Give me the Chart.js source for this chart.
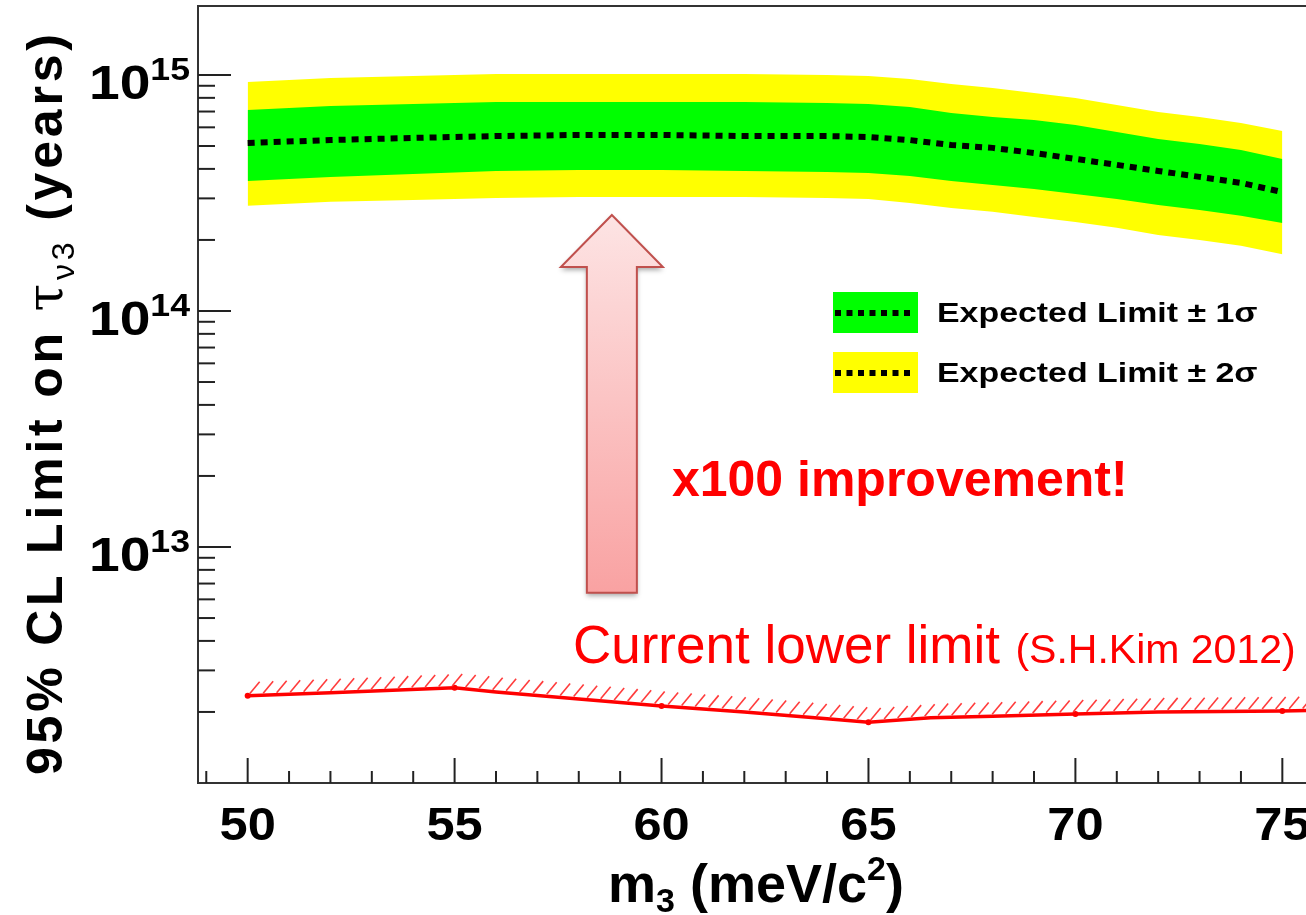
<!DOCTYPE html>
<html>
<head>
<meta charset="utf-8">
<script src="https://cdn.jsdelivr.net/npm/chart.js@4.4.0/dist/chart.umd.min.js"></script>
<style>
  html, body { margin: 0; padding: 0; background: #fff; overflow: hidden; }
  #wrap { width: 1306px; height: 915px; overflow: hidden; }
</style>
</head>
<body>
<div id="wrap"><canvas id="limitChart" width="1340" height="915"></canvas></div>
<script>
// m3 grid (meV/c^2) for the expected-limit bands
const massX = [50, 52, 54, 56, 58, 60, 62, 64, 65, 66, 67, 68, 69, 70, 71, 72, 73, 74, 75];
// expected limit (median) and the 1 and 2 sigma bands, in years
const expMedian = [5.15e14, 5.30e14, 5.41e14, 5.51e14, 5.57e14, 5.57e14, 5.51e14, 5.51e14, 5.46e14, 5.30e14,
                   5.05e14, 4.91e14, 4.67e14, 4.41e14, 4.16e14, 3.92e14, 3.70e14, 3.49e14, 3.19e14];
const oneSigmaHigh = [7.11e14, 7.39e14, 7.54e14, 7.69e14, 7.69e14, 7.69e14, 7.69e14, 7.61e14, 7.54e14, 7.32e14,
                      6.90e14, 6.64e14, 6.45e14, 6.14e14, 5.73e14, 5.36e14, 5.10e14, 4.81e14, 4.41e14];
const oneSigmaLow = [3.55e14, 3.70e14, 3.81e14, 3.92e14, 3.96e14, 3.96e14, 3.92e14, 3.88e14, 3.84e14, 3.73e14,
                     3.55e14, 3.42e14, 3.29e14, 3.13e14, 2.98e14, 2.81e14, 2.68e14, 2.53e14, 2.36e14];
const twoSigmaHigh = [9.34e14, 9.71e14, 9.90e14, 1.01e15, 1.01e15, 1.01e15, 1.01e15, 1.00e15, 9.90e14, 9.62e14,
                      9.16e14, 8.81e14, 8.39e14, 7.99e14, 7.46e14, 6.97e14, 6.64e14, 6.26e14, 5.79e14];
const twoSigmaLow = [2.79e14, 2.90e14, 2.95e14, 3.01e14, 3.04e14, 3.04e14, 3.04e14, 3.01e14, 2.98e14, 2.87e14,
                     2.73e14, 2.63e14, 2.50e14, 2.38e14, 2.25e14, 2.10e14, 2.00e14, 1.89e14, 1.74e14];
// current lower limit (S.H.Kim 2012)
const currentX = [50, 52, 55, 56, 58, 60, 62, 64, 65, 66.5, 68, 70, 72, 75, 76.2];
const currentLimit = [2.34e12, 2.41e12, 2.53e12, 2.43e12, 2.27e12, 2.12e12, 2.00e12, 1.87e12, 1.81e12,
                      1.89e12, 1.92e12, 1.96e12, 2.00e12, 2.02e12, 2.04e12];

// axis ticks
const xTickLabels = [50, 55, 60, 65, 70, 75];
const yTickExponents = [13, 14, 15];

const legendLabels = ['Expected Limit \u00b1 1\u03c3', 'Expected Limit \u00b1 2\u03c3'];

const FONT = '"Liberation Sans", Arial, Helvetica, sans-serif';
const toPoints = (xs, ys) => xs.map((x, i) => ({ x: x, y: ys[i] }));

// draw a row of text runs starting at x,y (optionally stretched horizontally)
function drawRuns(ctx, runs, x, y, sx) {
    sx = sx || 1;
    ctx.save();
    ctx.translate(x, y);
    ctx.scale(sx, 1);
    let cx = 0;
    runs.forEach(r => {
        ctx.font = r.font;
        ctx.fillText(r.text, cx, r.dy || 0);
        cx += ctx.measureText(r.text).width;
    });
    ctx.restore();
    return cx * sx;
}
function runsWidth(ctx, runs, sx) {
    let w = 0;
    runs.forEach(r => { ctx.font = r.font; w += ctx.measureText(r.text).width; });
    return w * (sx || 1);
}

const rootStyle = {
    id: 'rootStyle',
    afterDatasetsDraw(chart) {
        const ctx = chart.ctx;
        const area = chart.chartArea;
        const xs = chart.scales.x;
        const ys = chart.scales.y;

        // hatching above the current limit line
        const meta = chart.getDatasetMeta(5);
        const pts = meta.data;
        ctx.save();
        ctx.beginPath();
        ctx.rect(area.left, area.top, area.right - area.left, area.bottom - area.top);
        ctx.clip();
        ctx.strokeStyle = '#ff3c3c';
        ctx.lineWidth = 1.6;
        for (let hx = pts[0].x + 2; hx < pts[pts.length - 1].x; hx += 13.5) {
            let k = 0;
            while (k < pts.length - 2 && pts[k + 1].x < hx) k++;
            const a = pts[k], b = pts[k + 1];
            const hy = a.y + (b.y - a.y) * (hx - a.x) / (b.x - a.x);
            ctx.beginPath();
            ctx.moveTo(hx, hy - 2);
            ctx.lineTo(hx + 10, hy - 14);
            ctx.stroke();
        }
        ctx.restore();

        // frame
        ctx.save();
        ctx.strokeStyle = '#333';
        ctx.lineWidth = 2;
        ctx.strokeRect(area.left, area.top, area.right - area.left, area.bottom - area.top);

        // x ticks (inside)
        ctx.strokeStyle = '#222';
        for (let v = Math.ceil(xs.min); v <= xs.max; v++) {
            const px = xs.getPixelForValue(v);
            const len = v % 5 === 0 ? 25 : 12;
            ctx.beginPath();
            ctx.moveTo(px, area.bottom);
            ctx.lineTo(px, area.bottom - len);
            ctx.stroke();
        }
        // y ticks (inside)
        for (let d = 12; d <= 15; d++) {
            for (let m = 1; m <= 9; m++) {
                const val = m * Math.pow(10, d);
                if (val <= ys.min || val >= ys.max) continue;
                const py = ys.getPixelForValue(val);
                const len = m === 1 ? 33 : 17;
                ctx.beginPath();
                ctx.moveTo(area.left, py);
                ctx.lineTo(area.left + len, py);
                ctx.stroke();
            }
        }

        // tick labels
        ctx.fillStyle = '#000';
        ctx.textBaseline = 'alphabetic';
        xTickLabels.forEach(v => {
            const runs = [{ text: String(v), font: 'bold 46px ' + FONT }];
            const w = runsWidth(ctx, runs, 1.1);
            drawRuns(ctx, runs, xs.getPixelForValue(v) - w / 2, area.bottom + 57, 1.1);
        });
        yTickExponents.forEach(e => {
            const py = ys.getPixelForValue(Math.pow(10, e));
            const runs = [{ text: '10', font: 'bold 48px ' + FONT },
                          { text: String(e), font: 'bold 31px ' + FONT, dy: -19 }];
            const w = runsWidth(ctx, runs, 1.15);
            drawRuns(ctx, runs, 190 - w, py + 24, 1.15);
        });

        // x title
        drawRuns(ctx, [
            { text: 'm', font: 'bold 54px ' + FONT },
            { text: '3', font: 'bold 34px ' + FONT, dy: 10 },
            { text: ' (meV/c', font: 'bold 54px ' + FONT },
            { text: '2', font: 'bold 34px ' + FONT, dy: -22 },
            { text: ')', font: 'bold 54px ' + FONT }
        ], 608, 902, 1);

        // y title (rotated)
        ctx.save();
        ctx.translate(62, 775);
        ctx.rotate(-Math.PI / 2);
        ctx.letterSpacing = '3.8px';
        drawRuns(ctx, [
            { text: '95% CL Limit on ', font: 'bold 50px ' + FONT },
            { text: '\u03c4', font: '50px "DejaVu Serif", serif' },
            { text: '\u03bd3', font: '32px ' + FONT, dy: 12 },
            { text: ' (years)', font: 'bold 50px ' + FONT }
        ], 0, 0, 1);
        ctx.restore();

        // legend
        const boxes = [['#00ff00', 292], ['#ffff00', 352]];
        boxes.forEach((b, i) => {
            ctx.fillStyle = b[0];
            ctx.fillRect(833, b[1], 85, 41);
            ctx.strokeStyle = '#000';
            ctx.lineWidth = 6;
            ctx.setLineDash([6, 5.5]);
            ctx.beginPath();
            ctx.moveTo(835, b[1] + 21);
            ctx.lineTo(914, b[1] + 21);
            ctx.stroke();
            ctx.setLineDash([]);
            ctx.fillStyle = '#000';
            drawRuns(ctx, [{ text: legendLabels[i], font: 'bold 28px ' + FONT }], 937, b[1] + 30, 1.21);
        });

        // arrow
        const ax = xs.getPixelForValue(58.8);
        const tipY = ys.getPixelForValue(2.55e14);
        const baseY = ys.getPixelForValue(6.4e12);
        const headY = tipY + 52;
        const grad = ctx.createLinearGradient(0, tipY, 0, baseY);
        grad.addColorStop(0, '#fde4e4');
        grad.addColorStop(1, '#f9a2a2');
        ctx.beginPath();
        ctx.moveTo(ax, tipY);
        ctx.lineTo(ax + 51, headY);
        ctx.lineTo(ax + 25, headY);
        ctx.lineTo(ax + 25, baseY);
        ctx.lineTo(ax - 25, baseY);
        ctx.lineTo(ax - 25, headY);
        ctx.lineTo(ax - 51, headY);
        ctx.closePath();
        ctx.save();
        ctx.shadowColor = 'rgba(0,0,0,0.35)';
        ctx.shadowBlur = 5;
        ctx.shadowOffsetY = 3;
        ctx.fillStyle = grad;
        ctx.fill();
        ctx.restore();
        ctx.strokeStyle = '#c0504d';
        ctx.lineWidth = 2;
        ctx.stroke();

        // annotations
        ctx.fillStyle = '#ff0000';
        drawRuns(ctx, [{ text: 'x100 improvement!', font: 'bold 50px ' + FONT }],
                 xs.getPixelForValue(60.25), ys.getPixelForValue(1.64e13), 1);
        drawRuns(ctx, [{ text: 'Current lower limit', font: '53px ' + FONT }],
                 xs.getPixelForValue(57.86), ys.getPixelForValue(3.22e12), 1);
        drawRuns(ctx, [{ text: '(S.H.Kim 2012)', font: '41px ' + FONT }],
                 xs.getPixelForValue(68.55), ys.getPixelForValue(3.22e12), 1);
        ctx.restore();
    }
};

const band = (data, color, fill, order) => ({
    data: data,
    borderColor: 'rgba(0,0,0,0)',
    borderWidth: 0,
    backgroundColor: color,
    pointRadius: 0,
    fill: fill,
    order: order
});

new Chart(document.getElementById('limitChart'), {
    type: 'line',
    data: {
        datasets: [
            band(toPoints(massX, twoSigmaHigh), '#ffff00', '+1', 6),
            band(toPoints(massX, twoSigmaLow), '#ffff00', false, 5),
            band(toPoints(massX, oneSigmaHigh), '#00ff00', '+1', 4),
            band(toPoints(massX, oneSigmaLow), '#00ff00', false, 3),
            {
                data: toPoints(massX, expMedian),
                borderColor: '#000',
                borderWidth: 6,
                borderDash: [7, 6],
                pointRadius: 0,
                fill: false,
                order: 2
            },
            {
                data: toPoints(currentX, currentLimit),
                borderColor: '#ff0000',
                borderWidth: 3.5,
                pointRadius: c => (c.raw && c.raw.x % 5 === 0 ? 3 : 0),
                pointBackgroundColor: '#ff0000',
                pointBorderWidth: 0,
                fill: false,
                order: 1
            }
        ]
    },
    options: {
        responsive: false,
        animation: false,
        devicePixelRatio: 1,
        layout: { padding: { left: 198, top: 6, right: 8, bottom: 132 } },
        plugins: { legend: { display: false }, tooltip: { enabled: false } },
        scales: {
            x: { type: 'linear', min: 48.8, max: 76.2, display: false },
            y: { type: 'logarithmic', min: 1e12, max: 1.96e15, display: false }
        }
    },
    plugins: [rootStyle]
});
</script>
</body>
</html>
